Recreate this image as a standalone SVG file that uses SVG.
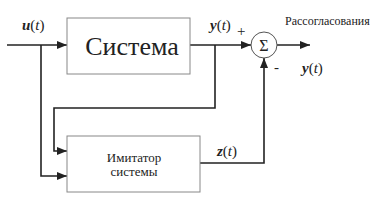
<svg xmlns="http://www.w3.org/2000/svg" width="390" height="203" viewBox="0 0 390 203">
<style>
.box{fill:#fff;stroke:#888;stroke-width:1}
.ln{fill:none;stroke:#222;stroke-width:1.6}
.t{font-family:'Liberation Serif','Times New Roman','DejaVu Serif',serif;fill:#222}
.m{font-family:'Liberation Serif','Times New Roman','DejaVu Serif',serif;font-style:italic;fill:#222;font-size:15px}
.b{font-weight:bold}
.n{font-style:normal}
</style>
<defs>
<marker id="ar" markerWidth="10" markerHeight="8" refX="10" refY="4" orient="auto" markerUnits="userSpaceOnUse">
<path d="M0,0 L10,4 L0,8 Z" fill="#222"/>
</marker>
</defs>
<g id="connectors">
<path class="ln" d="M7,45 H67" marker-end="url(#ar)"/>
<path class="ln" d="M41,45 V176 H67" marker-end="url(#ar)"/>
<path class="ln" d="M190,45 H251" marker-end="url(#ar)"/>
<path class="ln" d="M215,45 V108 H54 V151 H67" marker-end="url(#ar)"/>
<path class="ln" d="M200,163 H264 V58" marker-end="url(#ar)"/>
<path class="ln" d="M277,45 H310" marker-end="url(#ar)"/>
</g>
<g id="system">
<rect class="box" x="67" y="18" width="123" height="56"/>
<text class="t" x="132" y="55" font-size="26" text-anchor="middle">Система</text>
</g>
<g id="imitator">
<rect class="box" x="67" y="136" width="133" height="56"/>
<text class="t" x="134" y="162" font-size="13" text-anchor="middle">Имитатор</text>
<text class="t" x="134" y="176" font-size="13" text-anchor="middle">системы</text>
</g>
<g id="sum">
<circle cx="264" cy="45" r="13" fill="#fff" stroke="#555" stroke-width="1"/>
<text class="t" x="264" y="51" font-size="16" text-anchor="middle">Σ</text>
</g>
<g id="labels">
<text class="m" x="22" y="30"><tspan class="b">u</tspan><tspan class="n">(</tspan>t<tspan class="n">)</tspan></text>
<text class="m" x="210" y="30"><tspan class="b">y</tspan><tspan class="n">(</tspan>t<tspan class="n">)</tspan></text>
<text class="t" x="237" y="36" font-size="15">+</text>
<text class="t" x="274" y="72" font-size="15">-</text>
<text class="m" x="217" y="156"><tspan class="b">z</tspan><tspan class="n">(</tspan>t<tspan class="n">)</tspan></text>
<text class="m" x="302" y="73"><tspan class="b">y</tspan><tspan class="n">(</tspan>t<tspan class="n">)</tspan></text>
<text class="t" x="285" y="25" font-size="12">Рассогласования</text>
</g>
</svg>
